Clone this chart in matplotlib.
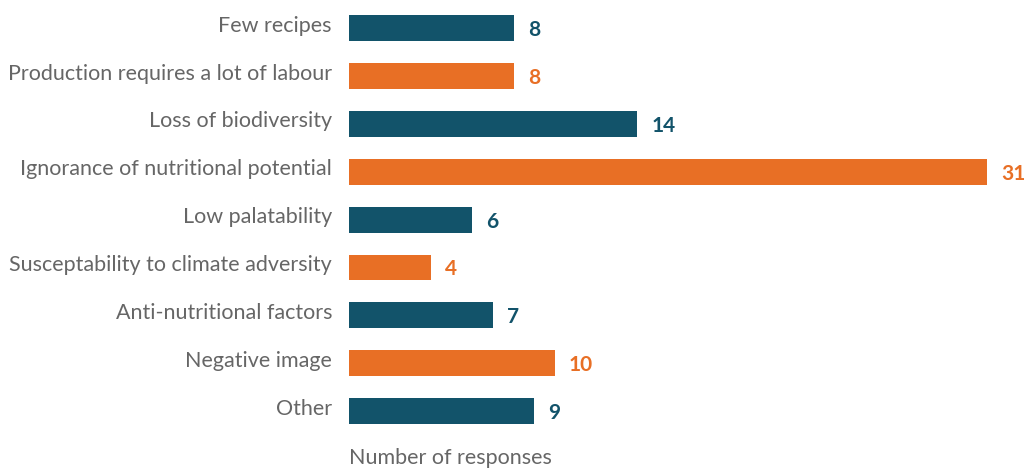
import matplotlib
matplotlib.use("Agg")
import matplotlib.pyplot as plt

categories = ["Few recipes", "Production requires a lot of labour", "Loss of biodiversity",
              "Ignorance of nutritional potential", "Low palatability",
              "Susceptability to climate adversity", "Anti-nutritional factors",
              "Negative image", "Other"]
values = [8, 8, 14, 31, 6, 4, 7, 10, 9]
teal = "#12536a"
orange = "#e86f25"
colors = [teal if i % 2 == 0 else orange for i in range(len(values))]

plt.rcParams['font.family'] = ['Lato', 'DejaVu Sans']

fig = plt.figure(figsize=(10.24, 4.70), dpi=100)
W, H = 1024, 470
left_px, right_px = 349, 1024
ax = fig.add_axes([left_px / W, 0, (right_px - left_px) / W, 1])
scale = 20.58
ax.set_xlim(0, (right_px - left_px) / scale)
c0, step = 28, 47.9
ax.set_ylim((H - c0) / step, -c0 / step)

ypos = list(range(len(values)))
ax.barh(ypos, values, height=0.54, color=colors)
for y, v, c, lab in zip(ypos, values, colors, categories):
    ax.text(v + 14 / scale, y + 0.04, str(v), color=c, fontsize=15, fontweight='bold',
            va='center', ha='left')
    ax.text(-17 / scale, y - 0.05, lab, color="#666666", fontsize=15.5, fontweight='normal',
            va='center', ha='right')

ax.axis('off')
fig.text(left_px / W, 1 - 458 / H, "Number of responses", color="#666666", fontsize=15.5,
         fontweight='normal', va='center', ha='left')

fig.savefig("out.png", dpi=100)
